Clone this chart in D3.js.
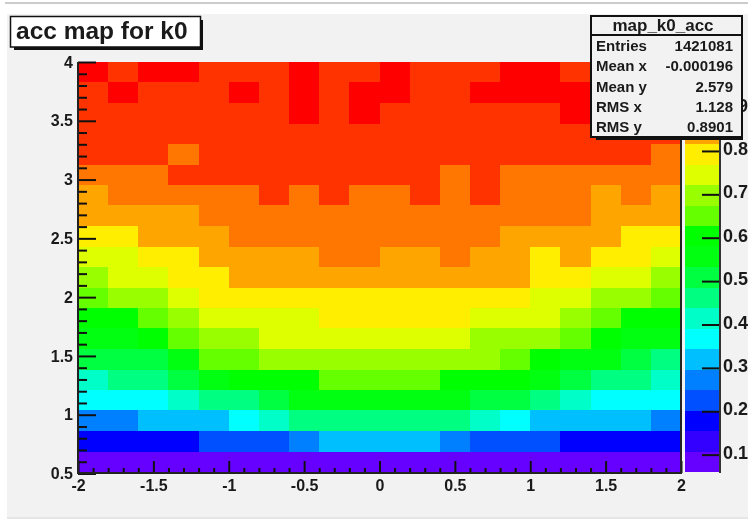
<!DOCTYPE html>
<html>
<head>
<meta charset="utf-8">
<script src="https://cdn.jsdelivr.net/npm/d3@7"></script>
<style>
  html, body { margin: 0; background: #fff; overflow: hidden; }
  svg { display: block; filter: blur(0.7px); }
  text { font-family: "Liberation Sans", Arial, sans-serif; font-weight: bold; fill: #1a1a1a; }
  .domain { display: none; }
  .tick line { stroke: #111; stroke-width: 2; }
  .tick text { font-size: 16px; font-family: "Liberation Sans", Arial, sans-serif; }
</style>
</head>
<body>
<svg width="748" height="520"></svg>
<script>
// acceptance per bin, top row (y = 4) first
var acc = [
  [.99,.94,.99,.99,.94,.94,.94,.99,.94,.94,.99,.94,.94,.94,.99,.99,.94,.94,.94,.94],
  [.94,.99,.94,.94,.94,.99,.94,.99,.94,.99,.99,.94,.94,.99,.99,.99,.99,.94,.94,.94],
  [.94,.94,.94,.94,.94,.94,.94,.99,.94,.99,.94,.94,.94,.94,.94,.94,.99,.94,.94,.94],
  [.94,.94,.94,.94,.94,.94,.94,.94,.94,.94,.94,.94,.94,.94,.94,.94,.94,.94,.94,.94],
  [.94,.94,.94,.89,.94,.94,.94,.94,.94,.94,.94,.94,.94,.94,.94,.94,.94,.94,.94,.89],
  [.89,.89,.89,.94,.94,.94,.94,.94,.94,.94,.94,.94,.89,.94,.89,.89,.89,.89,.89,.89],
  [.84,.89,.89,.89,.89,.89,.94,.89,.94,.89,.89,.94,.89,.94,.89,.89,.89,.84,.89,.84],
  [.84,.84,.84,.84,.89,.89,.89,.89,.89,.89,.89,.89,.89,.89,.89,.89,.89,.84,.84,.84],
  [.80,.80,.84,.84,.84,.89,.89,.89,.89,.89,.89,.89,.89,.89,.84,.84,.84,.84,.80,.80],
  [.75,.75,.80,.80,.84,.84,.84,.84,.89,.89,.84,.84,.89,.84,.84,.80,.84,.80,.80,.75],
  [.70,.75,.75,.80,.80,.84,.84,.84,.84,.84,.84,.84,.84,.84,.84,.80,.80,.75,.75,.70],
  [.65,.70,.70,.75,.80,.80,.80,.80,.80,.80,.80,.80,.80,.80,.80,.75,.75,.70,.70,.65],
  [.61,.61,.65,.70,.75,.75,.75,.75,.80,.80,.80,.80,.80,.75,.75,.75,.70,.65,.61,.61],
  [.56,.56,.61,.65,.70,.70,.75,.75,.75,.75,.75,.75,.75,.70,.70,.70,.65,.61,.56,.56],
  [.51,.51,.51,.56,.65,.65,.70,.70,.70,.70,.70,.70,.70,.70,.65,.61,.56,.56,.51,.46],
  [.42,.46,.46,.51,.56,.61,.61,.61,.65,.65,.65,.65,.61,.61,.61,.56,.51,.46,.46,.42],
  [.37,.37,.37,.42,.46,.46,.51,.56,.56,.56,.56,.56,.56,.51,.51,.46,.42,.37,.37,.37],
  [.27,.27,.32,.32,.32,.37,.42,.46,.46,.46,.46,.46,.46,.42,.37,.32,.32,.32,.32,.27],
  [.18,.18,.18,.18,.23,.23,.23,.27,.32,.32,.32,.32,.27,.23,.23,.23,.18,.18,.18,.18],
  [.08,.08,.08,.08,.08,.08,.08,.08,.08,.08,.08,.08,.08,.08,.08,.08,.08,.08,.08,.08]
]

var palette = ['#6600ff', '#3300ff', '#0000ff', '#0050ff', '#0080ff', '#00bfff', '#00ffff',
  '#00ffc8', '#00ff80', '#00ff40', '#00ff10', '#00ff00', '#66ff00', '#99ff00',
  '#ddff00', '#ffee00', '#ffa500', '#ff7700', '#ff3300', '#ff0000']

var xTicks = [-2, -1.5, -1, -0.5, 0, 0.5, 1, 1.5, 2]
var yTicks = [0.5, 1, 1.5, 2, 2.5, 3, 3.5, 4]
var zTicks = [0.1, 0.2, 0.3, 0.4, 0.5, 0.6, 0.7, 0.8, 0.9]
var statNames = ['Entries', 'Mean x', 'Mean y', 'RMS x', 'RMS y']
var statValues = ['1421081', '-0.000196', '2.579', '1.128', '0.8901']
var title = 'acc map for k0'
var statTitle = 'map_k0_acc'

var svg = d3.select('svg')

var x = d3.scaleLinear().domain([-2, 2]).range([78, 681])
var y = d3.scaleLinear().domain([0.5, 4]).range([472, 62])
var yAxisScale = d3.scaleLinear().domain([0.5, 4]).range([473.5, 62])
var z = d3.scaleLinear().domain([0.06, 1.005]).range([472, 62])
var color = d3.scaleQuantize().domain(z.domain()).range(palette)

var dx = 4 / acc[0].length
var dy = 3.5 / acc.length

// pad background
svg.append('rect').attr('x', 7).attr('y', 14).attr('width', 741).attr('height', 503).attr('fill', '#f2f2f2')
svg.append('line').attr('x1', 5).attr('x2', 748).attr('y1', 3).attr('y2', 3).attr('stroke', '#999').attr('stroke-width', 1)
svg.append('line').attr('x1', 7).attr('x2', 748).attr('y1', 518).attr('y2', 518).attr('stroke', '#ccc').attr('stroke-width', 1)

// cells, snapped to whole pixels so no seams show
acc.forEach(function (row, i) {
  var top = Math.round(y(4 - i * dy))
  var bottom = Math.round(y(4 - (i + 1) * dy))
  svg.append('g').selectAll('rect')
    .data(row)
    .enter().append('rect')
    .attr('shape-rendering', 'crispEdges')
    .attr('x', function (d, j) { return Math.round(x(-2 + j * dx)) })
    .attr('y', top)
    .attr('width', function (d, j) { return Math.round(x(-2 + (j + 1) * dx)) - Math.round(x(-2 + j * dx)) })
    .attr('height', bottom - top)
    .attr('fill', function (d) { return color(d) })
})

// colour bar
var zStep = (z.domain()[1] - z.domain()[0]) / palette.length
svg.append('g').selectAll('rect')
  .data(palette)
  .enter().append('rect')
  .attr('shape-rendering', 'crispEdges')
  .attr('x', 685)
  .attr('width', 35)
  .attr('y', function (d, i) { return Math.round(z(z.domain()[0] + (i + 1) * zStep)) })
  .attr('height', function (d, i) { return Math.round(z(z.domain()[0] + i * zStep)) - Math.round(z(z.domain()[0] + (i + 1) * zStep)) })
  .attr('fill', function (d) { return d })

// axes, ticks point inwards like ROOT
function minor (a, b) {
  return d3.range(a * 10, b * 10 + 1).map(function (v) { return v / 10 })
}

var xMinor = minor(-2, 2).filter(function (v) { return xTicks.indexOf(v) < 0 })
var yMinor = minor(0.5, 4).filter(function (v) { return yTicks.indexOf(v) < 0 })

svg.append('g').attr('transform', 'translate(0,473)')
  .call(d3.axisBottom(x).tickValues(xMinor).tickSize(-5).tickFormat(''))
svg.append('g').attr('transform', 'translate(0,473)')
  .call(d3.axisBottom(x).tickValues(xTicks).tickSize(-12).tickPadding(7).tickFormat(String))

svg.append('g').attr('transform', 'translate(78,0)')
  .call(d3.axisLeft(yAxisScale).tickValues(yMinor).tickSize(-9).tickFormat(''))
svg.append('g').attr('transform', 'translate(78,0)')
  .call(d3.axisLeft(yAxisScale).tickValues(yTicks).tickSize(-18).tickPadding(5).tickFormat(String))

svg.append('g').attr('transform', 'translate(720,0)')
  .call(d3.axisRight(z).tickValues(zTicks).tickSize(-18).tickPadding(3).tickFormat(String))
  .selectAll('text').attr('dy', '0.2em').style('font-size', '18px')

// frame lines
svg.append('path').attr('d', 'M78,62V473H681V62').attr('fill', 'none').attr('stroke', '#222').attr('stroke-width', 2)
svg.append('path').attr('d', 'M720,62V473').attr('fill', 'none').attr('stroke', '#333').attr('stroke-width', 2)

// title box
svg.append('rect').attr('x', 14).attr('y', 20).attr('width', 189).attr('height', 30).attr('fill', '#111')
svg.append('rect').attr('x', 10.5).attr('y', 16.5).attr('width', 190).attr('height', 30.5)
  .attr('fill', '#fff').attr('stroke', '#111').attr('stroke-width', 1.5)
svg.append('text').attr('x', 16).attr('y', 39).style('font-size', '24.5px').text(title)

// stats box
svg.append('rect').attr('x', 596).attr('y', 20).attr('width', 147).attr('height', 120).attr('fill', '#111')
svg.append('rect').attr('x', 591).attr('y', 16).attr('width', 151).attr('height', 121)
  .attr('fill', '#f2f2f2').attr('stroke', '#111').attr('stroke-width', 2)
svg.append('line').attr('x1', 591).attr('x2', 742).attr('y1', 35).attr('y2', 35).attr('stroke', '#111').attr('stroke-width', 2)
svg.append('text').attr('x', 663).attr('y', 31).attr('text-anchor', 'middle').style('font-size', '17px').text(statTitle)

var statY = d3.scalePoint().domain(statNames).range([51, 132])
statNames.forEach(function (name, i) {
  svg.append('text').attr('x', 596).attr('y', statY(name)).style('font-size', '15px').text(name)
  svg.append('text').attr('x', 733).attr('y', statY(name)).attr('text-anchor', 'end').style('font-size', '15px').text(statValues[i])
})
</script>
</body>
</html>
